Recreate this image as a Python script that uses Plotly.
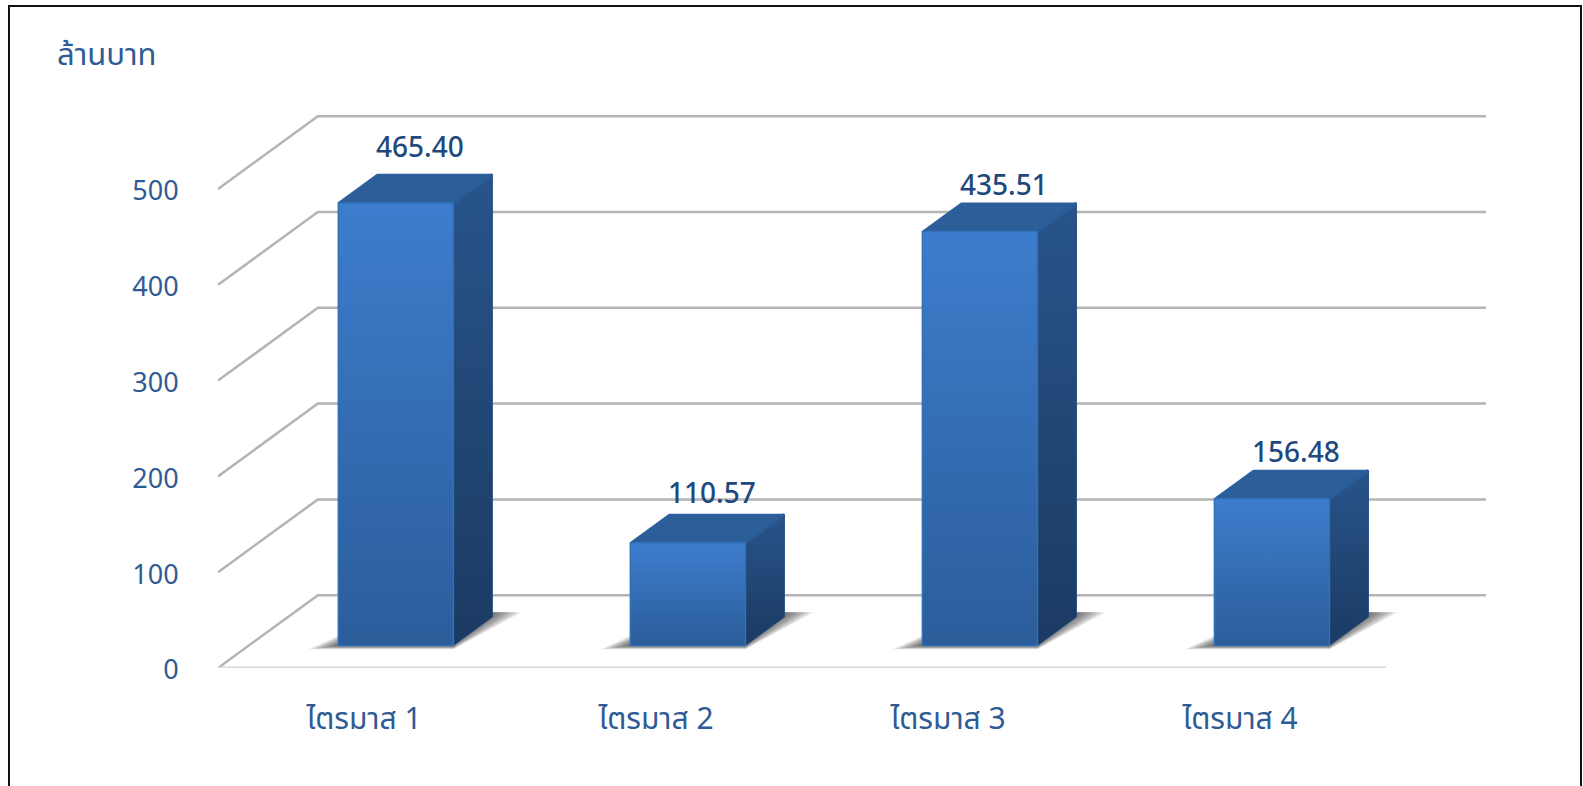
import plotly.graph_objects as go

# values
QUARTERS = ['ไตรมาส 1', 'ไตรมาส 2', 'ไตรมาส 3', 'ไตรมาส 4']
REVENUE = [465.40, 110.57, 435.51, 156.48]
Y_TICKS = [0, 100, 200, 300, 400, 500]
UNIT_LABEL = 'ล้านบาท'

# oblique projection of the fake 3D: depth 0 = front of floor, depth 1 = back wall
DEPTH_X = 0.342   # category units
DEPTH_Y = 76      # value units
BAR_HALF = 0.197
BAR_SHIFT = 0.003
BAR_Z_FRONT = 0.31
BAR_Z_BACK = 0.70
BEVEL = 3.5       # the rounded bar top ends a little under its value
LABEL_SHIFT = [4, -2, -5, -5]   # px above the back edge of each bar top
SHADOW_SPREADS = [0.10, 0.088, 0.076, 0.064, 0.052, 0.04, 0.028, 0.016]

WIDTH, HEIGHT = 1583, 786
MARGIN = dict(l=218, r=83, t=100, b=118)
FONT = "Noto Sans, 'Noto Sans Thai', 'Open Sans', sans-serif"
TEXT_COLOR = '#2f5b94'
LABEL_COLOR = '#1f497d'


def px(c, v, z):
    """Project category / value / depth onto the flat axes."""
    return c + z * DEPTH_X, v + z * DEPTH_Y


def polygon(points, **kwargs):
    xs, ys = zip(*[px(*p) for p in points])
    return go.Scatter(x=list(xs) + [xs[0]], y=list(ys) + [ys[0]], mode='lines', fill='toself',
                      hoverinfo='skip', showlegend=False, **kwargs)


def gradient(top, bottom):
    return dict(type='vertical', colorscale=[[0, bottom], [1, top]])


fig = go.Figure()

# wall and side grid lines
for tick in Y_TICKS:
    xs, ys = zip(px(0.5, tick, 0), px(0.5, tick, 1), px(4.5, tick, 1))
    fig.add_trace(go.Scatter(x=xs, y=ys, mode='lines', line=dict(color='#b4b4b4', width=2.5),
                             hoverinfo='skip', showlegend=False))
fig.add_trace(go.Scatter(x=[0.5, 4.5], y=[0, 0], mode='lines', line=dict(color='#d8d8d8', width=3),
                         hoverinfo='skip', showlegend=False))

for i, value in enumerate(REVENUE):
    c = i + 1 + BAR_SHIFT
    left, right = c - BAR_HALF, c + BAR_HALF
    zf, zb = BAR_Z_FRONT, BAR_Z_BACK
    top = value - BEVEL

    # soft floor shadow, a few layers on top of each other
    for spread in SHADOW_SPREADS:
        drop = 4 * spread / 0.1
        fig.add_trace(polygon(
            [(left - spread, -drop, zf), (right, -drop, zf), (right + spread, 5, zb), (right, 5, zb),
             (left, 10 * spread / 0.1, zf)],
            line=dict(width=0), fillcolor='rgba(40,40,40,0.11)'))

    # side face
    fig.add_trace(polygon(
        [(right, 0, zf), (right, 0, zb), (right, top, zb), (right, top, zf)],
        line=dict(color='#214a7c', width=1), fillcolor='#214a7c',
        fillgradient=gradient('#28548a', '#1b3a63')))
    # top face
    fig.add_trace(polygon(
        [(left, top, zf), (left, top, zb), (right, top, zb), (right, top, zf)],
        line=dict(color='#2c5f9b', width=1.5), fillcolor='#2c5f99'))
    # lit edge between top and side
    xs, ys = zip(px(right, top, zf), px(right, top, zb))
    fig.add_trace(go.Scatter(x=xs, y=ys, mode='lines', line=dict(color='#2a5c99', width=3),
                             hoverinfo='skip', showlegend=False))
    # front face
    fig.add_trace(polygon(
        [(left, 0, zf), (right, 0, zf), (right, top, zf), (left, top, zf)],
        line=dict(color='#3270b8', width=1.5), fillcolor='#3572bd',
        fillgradient=gradient('#3d7dcd', '#2b5d9a')))

    label_y = px(c, value, zb)[1]
    fig.add_annotation(x=c + 0.19, y=label_y, text=f'{value:.2f}', showarrow=False,
                       yanchor='bottom', yshift=LABEL_SHIFT[i],
                       font=dict(size=28, color=LABEL_COLOR, family=FONT, weight=500))

# unit label, top left
plot_w = WIDTH - MARGIN['l'] - MARGIN['r']
plot_h = HEIGHT - MARGIN['t'] - MARGIN['b']
fig.add_annotation(xref='paper', yref='paper', x=(55 - MARGIN['l']) / plot_w,
                   y=(HEIGHT - MARGIN['b'] - 53) / plot_h,
                   text=UNIT_LABEL, showarrow=False, xanchor='left', yanchor='middle',
                   font=dict(size=31, color=TEXT_COLOR, family=FONT))

# black frame around the picture, open at the bottom
fx0, fx1 = (9 - MARGIN['l']) / plot_w, (1581 - MARGIN['l']) / plot_w
fy0, fy1 = -MARGIN['b'] / plot_h, (HEIGHT - MARGIN['b'] - 6) / plot_h
fig.add_shape(type='rect', xref='paper', yref='paper', x0=fx0, x1=fx1, y0=fy0 - 0.05, y1=fy1,
              line=dict(color='#111111', width=2))

fig.update_layout(
    width=WIDTH, height=HEIGHT,
    margin=MARGIN,
    paper_bgcolor='white', plot_bgcolor='white',
    showlegend=False,
    font=dict(family=FONT, color=TEXT_COLOR),
)
fig.update_xaxes(range=[0.5, 4.89], tickvals=[1, 2, 3, 4], ticktext=QUARTERS, showgrid=False, zeroline=False,
                 showline=False, ticks='outside', ticklen=24, tickcolor='rgba(0,0,0,0)',
                 tickfont=dict(size=30, color=TEXT_COLOR, family=FONT))
fig.update_yaxes(range=[0, 592.9], tickvals=Y_TICKS, showgrid=False, zeroline=False, showline=False,
                 ticks='outside', ticklen=33, tickcolor='rgba(0,0,0,0)', ticklabelshift=2,
                 tickfont=dict(size=27, color=TEXT_COLOR, family=FONT))

# the default page has an 8px body margin, the picture fills the window
fig.write_html("out.html", config={'displayModeBar': False},
               post_script="document.body.style.margin = '0';")
